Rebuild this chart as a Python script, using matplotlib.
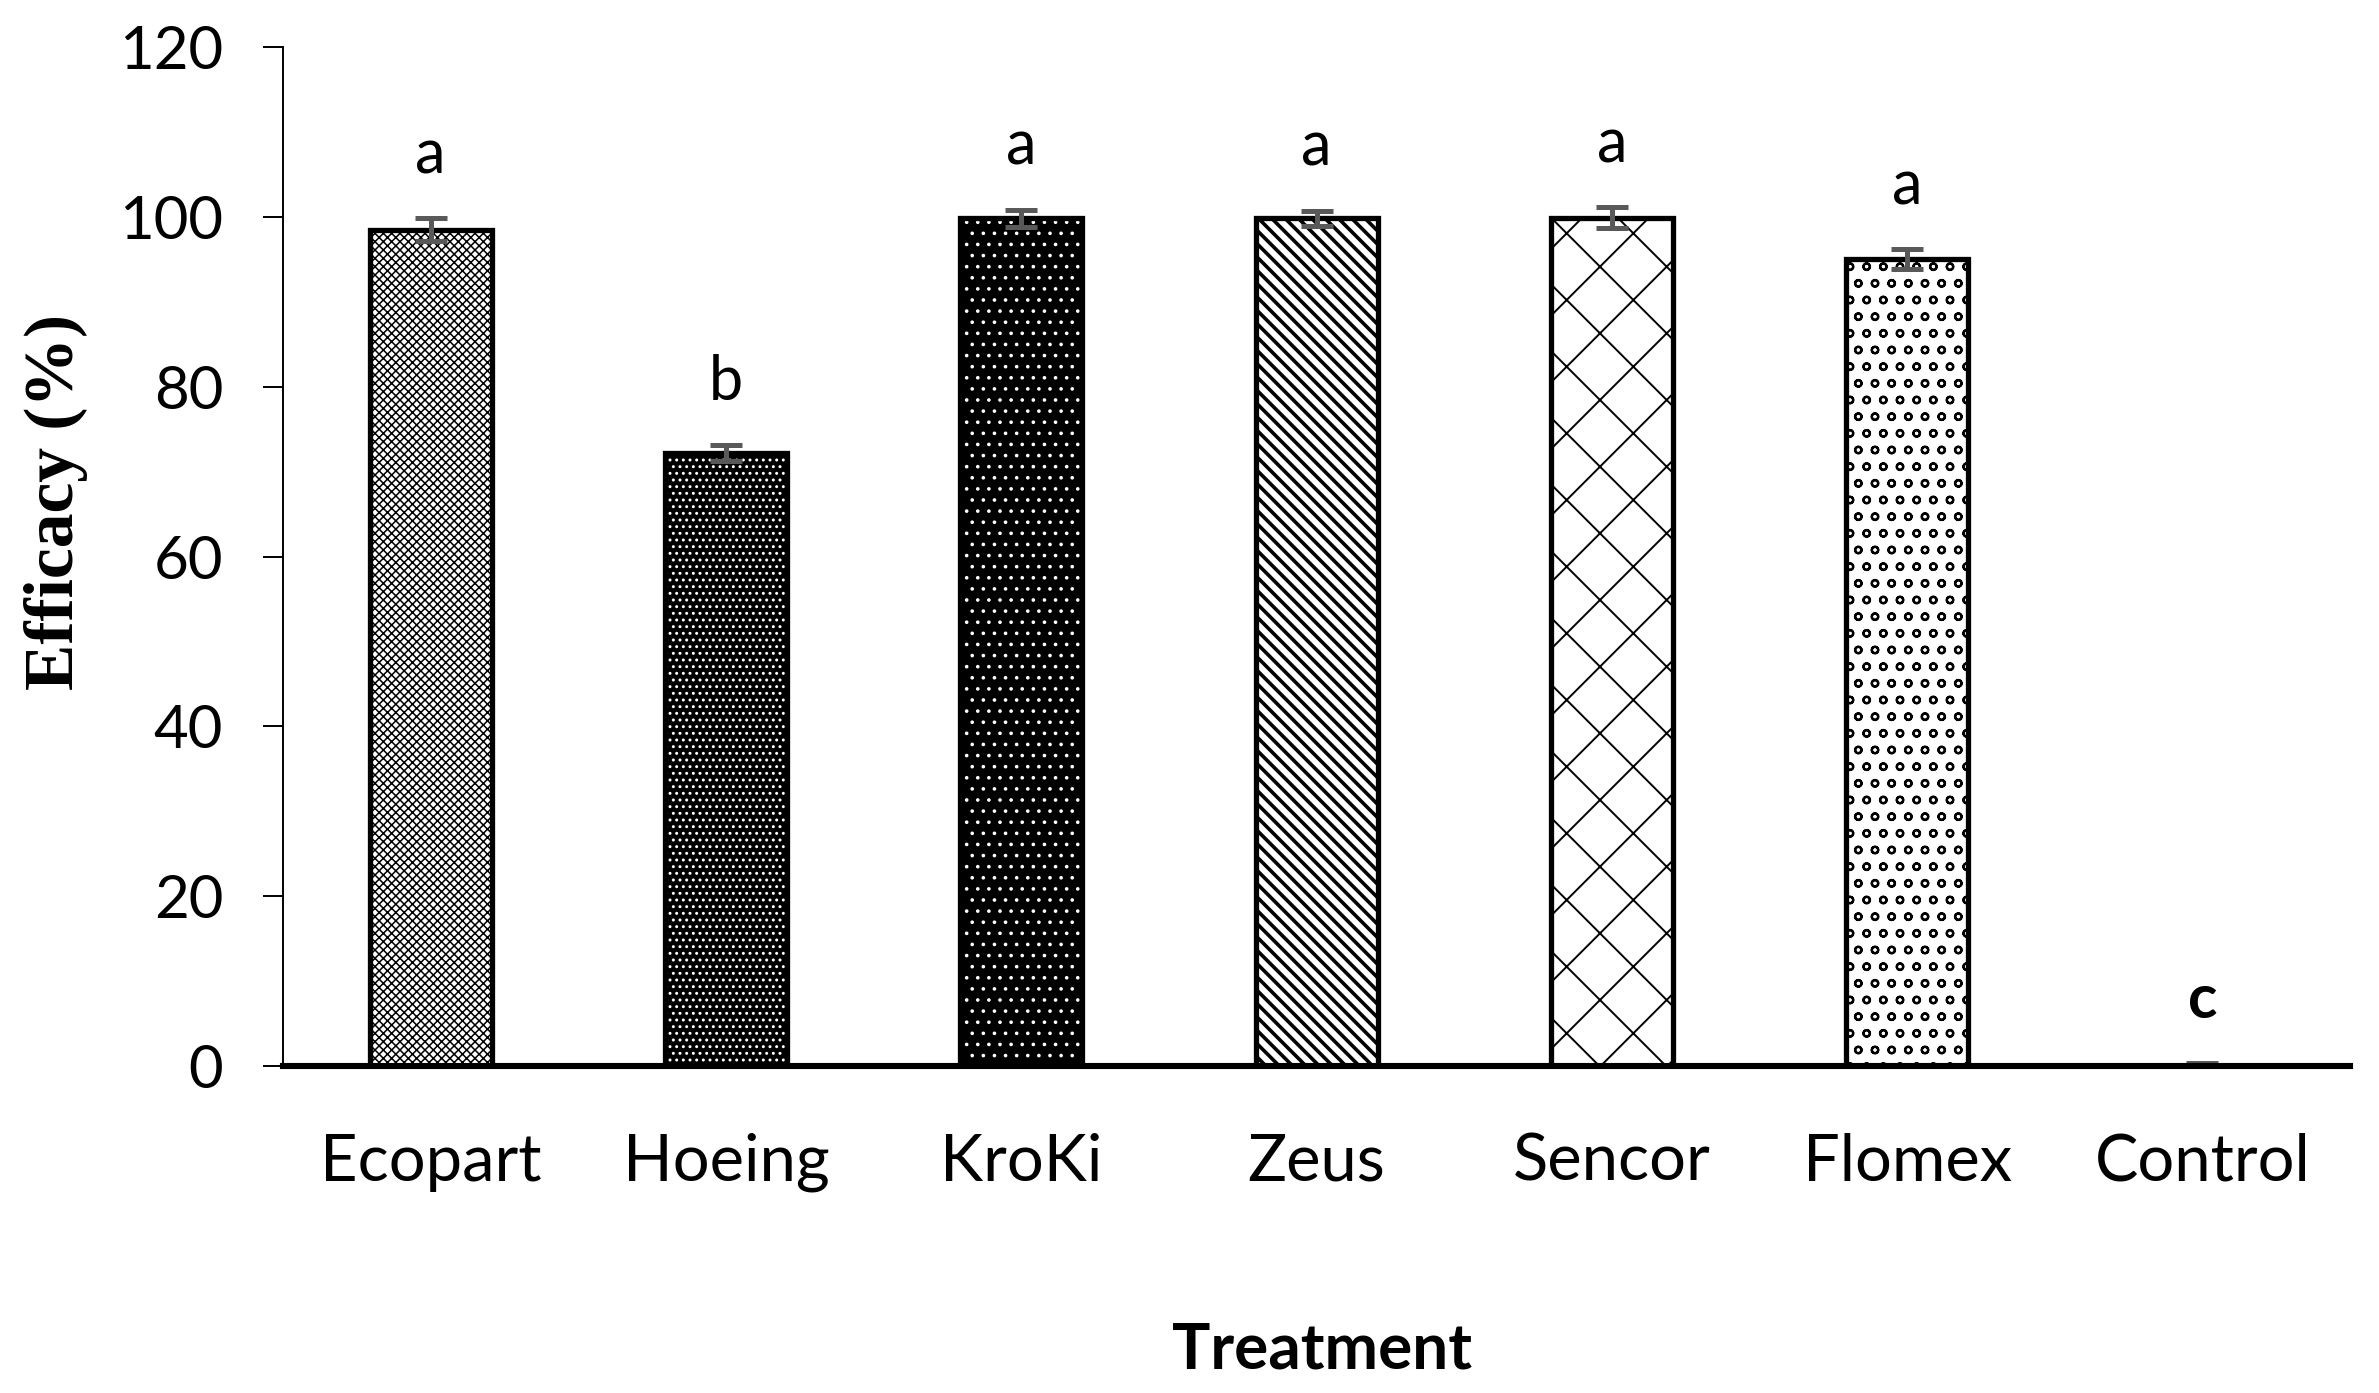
""" efficacy of weed control treatments """

import matplotlib
matplotlib.use("Agg")
import matplotlib.pyplot
import numpy

treatments = ["Ecopart", "Hoeing", "KroKi", "Zeus", "Sencor", "Flomex", "Control"]
efficacy = [98.5, 72.2, 99.8, 99.8, 99.9, 95.0, 0.0]
stderr = [1.3, 0.9, 1.0, 0.9, 1.2, 1.2, 0.4]
letters = ["a", "b", "a", "a", "a", "a", "c"]

# fill style of every bar: (face, hatch colour, hatch, hatch linewidth)
styles = [
    ("white", "black", "xxxxxxxx", 0.55),
    ("black", "white", ".....", 0.6),
    ("black", "white", "...", 0.5),
    ("white", "black", "\\\\\\\\\\", 1.3),
    ("white", "black", "x", 0.7),
    ("white", "black", "oo", 0.8),
    ("white", "black", "", 0.6),
]

OUTPUT = "out.png"


def plot_efficacy():
    matplotlib.pyplot.rcParams["font.family"] = ["Lato", "DejaVu Sans"]

    fig = matplotlib.pyplot.figure(figsize=(11.895, 6.965), dpi=200)
    ax = fig.add_axes([0.119, 0.2347, 0.8688, 0.7316])

    indexes = numpy.arange(len(treatments))
    width = 0.413

    for i in indexes:
        face, hcol, hatch, hlw = styles[i]
        with matplotlib.pyplot.rc_context({"hatch.linewidth": hlw}):
            b = ax.bar(indexes[i], efficacy[i], width, color=face, edgecolor=hcol,
                       hatch=hatch, linewidth=0, zorder=2)
        for p in b:
            if hasattr(p, "set_hatch_linewidth"):
                p.set_hatch_linewidth(hlw)
        # the outline on top
        ax.bar(indexes[i], efficacy[i], width, fill=False, edgecolor="black",
               linewidth=1.9, zorder=3)

    ax.errorbar(indexes, efficacy, yerr=stderr, fmt="none", ecolor="#595959",
                elinewidth=1.8, capsize=5.6, capthick=1.8, zorder=4)

    # significance letters
    for i in indexes:
        ax.text(indexes[i], efficacy[i] + stderr[i] + 5.3, letters[i],
                ha="center", va="baseline", fontsize=22,
                fontweight="bold" if letters[i] == "c" else "normal", zorder=5)

    ax.set_xlim(-0.5, len(treatments) - 0.5)
    ax.set_ylim(0, 120)
    ax.set_yticks(numpy.arange(0, 121, 20))
    ax.set_xticks(indexes)
    ax.set_xticklabels(treatments, fontsize=23.4)
    ax.tick_params(axis="x", length=0, pad=24)
    ax.tick_params(axis="y", length=7.2, width=0.7, pad=14.4, labelsize=21.6)

    ax.spines["top"].set_visible(False)
    ax.spines["right"].set_visible(False)
    ax.spines["left"].set_linewidth(0.7)
    ax.spines["bottom"].set_linewidth(2.2)
    ax.spines["bottom"].set_zorder(6)

    ax.set_ylabel("Efficacy (%)", family=["Liberation Serif", "DejaVu Serif"],
                  fontweight="bold", fontsize=25)
    ax.yaxis.set_label_coords(-0.0943, 0.5535)

    ax.set_xlabel("Treatment", fontweight="bold", fontsize=23)
    ax.xaxis.label.set_va("baseline")
    ax.xaxis.set_label_coords(0.5027, -0.297)

    matplotlib.pyplot.savefig(OUTPUT, dpi=200)
    matplotlib.pyplot.close()


if __name__ == "__main__":
    plot_efficacy()
